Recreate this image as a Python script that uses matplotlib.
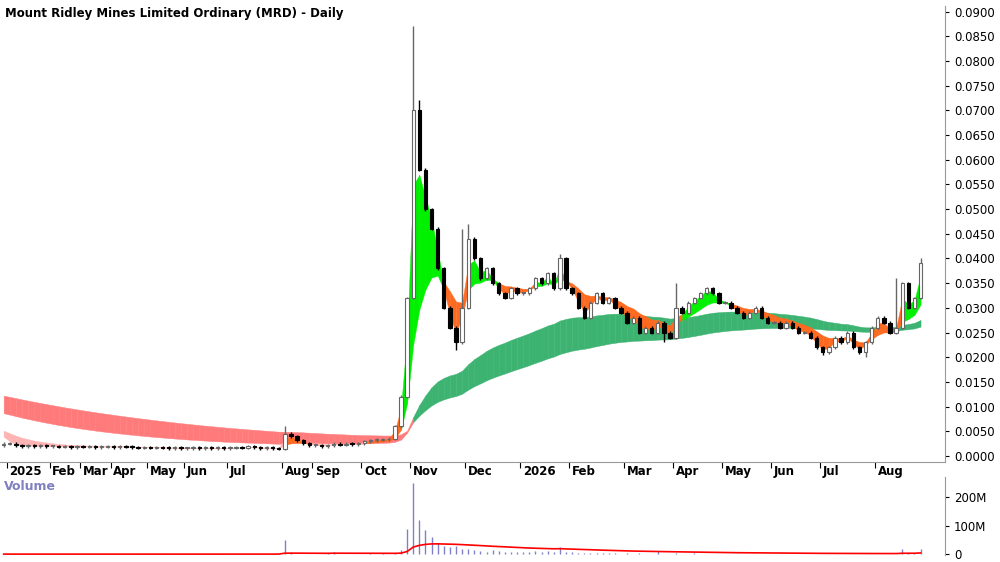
import numpy as np
import matplotlib
matplotlib.use("Agg")
import matplotlib.pyplot as plt
from matplotlib.ticker import FuncFormatter

title = "Mount Ridley Mines Limited Ordinary (MRD) - Daily"
month_labels = ["2025","Feb","Mar","Apr","May","Jun","Jul","Aug","Sep","Oct","Nov","Dec",
                "2026","Feb","Mar","Apr","May","Jun","Jul","Aug"]
month_counts = [1,7,5,5,6,6,7,9,5,8,8,9,9,8,9,8,8,8,8,9,8]  # candles per month (first = Dec 2024)

closes = [0.0025,
 0.0025,0.0022,0.0020,0.0022,0.0020,0.0021,0.0020,
 0.0020,0.0019,0.0020,0.0018,0.0020,
 0.0019,0.0020,0.0018,0.0019,0.0020,
 0.0018,0.0020,0.0019,0.0018,0.0017,0.0018,
 0.0017,0.0018,0.0017,0.0016,0.0017,0.0016,
 0.0016,0.0017,0.0016,0.0018,0.0016,0.0017,0.0016,
 0.0017,0.0018,0.0017,0.0020,0.0018,0.0016,0.0017,0.0016,0.0015,
 0.0045,0.0040,0.0032,0.0026,0.0022,
 0.0022,0.0020,0.0022,0.0025,0.0023,0.0025,0.0024,0.0026,
 0.0030,0.0032,0.0033,0.0034,0.0035,0.0060,0.0120,0.0320,
 0.0700,0.0580,0.0500,0.0460,0.0380,0.0300,0.0260,0.0230,0.0300,
 0.0440,0.0400,0.0360,0.0380,0.0350,0.0330,0.0320,0.0340,0.0330,
 0.0330,0.0340,0.0360,0.0350,0.0370,0.0340,0.0400,0.0340,
 0.0330,0.0300,0.0280,0.0310,0.0330,0.0310,0.0320,0.0300,0.0290,
 0.0270,0.0280,0.0250,0.0260,0.0250,0.0270,0.0250,0.0240,
 0.0300,0.0290,0.0310,0.0320,0.0330,0.0340,0.0330,0.0310,
 0.0310,0.0300,0.0290,0.0280,0.0290,0.0300,0.0280,0.0270,
 0.0270,0.0260,0.0270,0.0260,0.0250,0.0250,0.0240,0.0220,
 0.0210,0.0220,0.0240,0.0230,0.0250,0.0220,0.0210,0.0230,0.0260,
 0.0280,0.0270,0.0250,0.0260,0.0350,0.0300,0.0320,0.0390]
first_open = 0.0022
high_overrides = {46: 0.0060, 67: 0.0870, 68: 0.0720, 75: 0.0460, 76: 0.0470, 91: 0.0410,
                  110: 0.0350, 146: 0.0360, 150: 0.0400}
low_overrides = {74: 0.0215, 108: 0.0230, 134: 0.0205, 141: 0.0200}

volume_m = [1,1,1,1,1,1,1,1, 1,1,1,1,1, 1,1,1,1,1, 1,1,1,1,1,1, 1,1,1,1,1,1,
 1,1,1,1,1,1,1, 1,1,1,1,1,1,1,2,1, 50,8,3,2,2, 2,2,4,10,3,2,2,2,
 3,4,3,5,3,4,15,90, 250,120,85,60,40,30,25,28,20,
 18,15,12,10,15,12,10,10,8, 8,10,12,10,12,10,25,10,
 8,6,5,6,5,5,4,4,3, 4,3,5,3,3,12,3,3, 4,3,3,4,3,3,2,2,
 3,2,2,3,2,2,2,2, 2,2,2,2,2,3,2,2, 2,2,3,2,3,2,2,2,3,
 3,3,2,2,18,6,4,20]

short_spans = [2.0, 9.0]
long_spans = [40.0, 75.0]
short_seed = [0.0068, 0.0058]
long_seed = [0.0090, 0.0125]

n = len(closes)
x = np.arange(n)
c = np.array(closes)
o = np.r_[first_open, c[:-1]]
h = np.maximum(o, c) + 0.0003
l = np.minimum(o, c) - 0.0003
for k, v in high_overrides.items(): h[k] = v
for k, v in low_overrides.items(): l[k] = v

def ema(vals, span, seed):
    a = 2.0 / (span + 1)
    out = np.empty(len(vals)); prev = seed
    for i, v in enumerate(vals):
        prev = prev + a * (v - prev); out[i] = prev
    return out

s1 = ema(c, short_spans[0], short_seed[0]); s2 = ema(c, short_spans[1], short_seed[1])
l1 = ema(c, long_spans[0], long_seed[0]); l2 = ema(c, long_spans[1], long_seed[1])
vol = np.array(volume_m, float)
vma = ema(vol, 30, 1.0)

fig = plt.figure(figsize=(10, 5.62), dpi=100)
ax = fig.add_axes([0.0, 0.178, 0.945, 0.812])
axv = fig.add_axes([0.0, 0.012, 0.945, 0.139])
axv.patch.set_alpha(0)

lo_band, hi_band = np.minimum(l1, l2), np.maximum(l1, l2)
for i in range(n - 1):
    col = "#3CB371" if l1[i] >= l2[i] else "#FF7B7B"
    ax.fill_between(x[i:i+2], lo_band[i:i+2], hi_band[i:i+2], color=col, lw=0.3, ec=col, zorder=1)
slo, shi = np.minimum(s1, s2), np.maximum(s1, s2)
for i in range(n - 1):
    if shi[i] < lo_band[i] + 0.0002 and l1[i] < l2[i]:
        col = "#FFB3B3"
    elif s1[i] >= s2[i] and slo[i] > hi_band[i] - 0.0005:
        col = "#00F000"
    else:
        col = "#FF6A20"
    ax.fill_between(x[i:i+2], slo[i:i+2], shi[i:i+2], color=col, lw=0.3, ec=col, zorder=2)

for i in range(n):
    up = c[i] >= o[i]
    ax.vlines(x[i], l[i], h[i], color="#666666" if up else "black", lw=1, zorder=3)
    bot, top = min(o[i], c[i]), max(o[i], c[i])
    ax.bar(x[i], max(top - bot, 0.00015), bottom=bot, width=0.55,
           color="white" if up else "black", edgecolor="#666666" if up else "black", lw=0.8, zorder=4)

ax.set_xlim(-0.6, n + 3)
ax.set_ylim(-0.0012, 0.0912)
ax.yaxis.tick_right()
ax.set_yticks(np.arange(0, 0.0901, 0.005))
ax.yaxis.set_major_formatter(FuncFormatter(lambda v, p: f"{v:.4f}"))
starts = np.cumsum(month_counts)[:-1] - 0.5
ax.set_xticks(starts)
ax.set_xticklabels([])
for s, lab in zip(starts, month_labels):
    ax.annotate(lab, (s, 0), xycoords=("data", "axes fraction"), xytext=(2, -2),
                textcoords="offset points", ha="left", va="top", fontsize=8.5, fontweight="bold")
ax.tick_params(axis="x", length=4, direction="out")
ax.tick_params(axis="y", labelsize=8.5, length=3)
ax.text(0.005, 0.998, title, transform=ax.transAxes, ha="left", va="top", fontsize=8.5, fontweight="bold")

axv.vlines(x, 0, vol, color="#8080C8", lw=1)
axv.plot(x, vma, color="red", lw=1.2)
axv.set_xlim(ax.get_xlim())
axv.set_ylim(-3, 270)
axv.yaxis.tick_right()
axv.set_yticks([0, 100, 200])
axv.set_yticklabels(["0", "100M", "200M"])
axv.tick_params(axis="y", labelsize=8.5, length=3)
axv.set_xticks([])
axv.text(0.004, 0.96, "Volume", transform=axv.transAxes, ha="left", va="top", fontsize=9,
         fontweight="bold", color="#8080C0")
for a in (ax, axv):
    for sp in a.spines.values():
        sp.set_color("#999999")
    a.spines["left"].set_visible(False)
    a.spines["top"].set_visible(False)
    a.spines["bottom"].set_visible(a is ax)
fig.savefig("out.png", dpi=100)
